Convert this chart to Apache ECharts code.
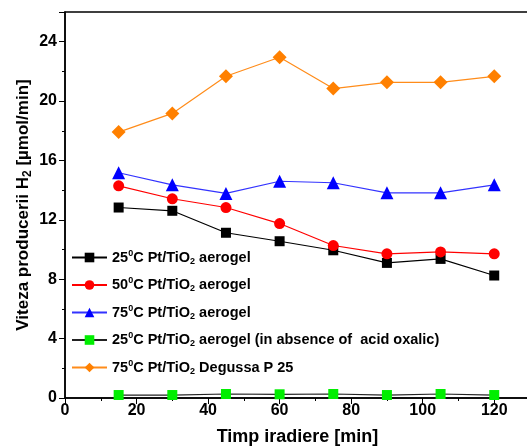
<!DOCTYPE html>
<html>
<head>
<meta charset="utf-8">
<script src="https://cdn.jsdelivr.net/npm/echarts@6/dist/echarts.min.js"></script>
<style>html,body{margin:0;padding:0;background:#fff}#c{width:527px;height:447px}</style>
</head>
<body>
<div id="c"></div>
<script>
var xValues = [15, 30, 45, 60, 75, 90, 105, 120];
var s25 = [12.83, 12.61, 11.13, 10.56, 9.95, 9.10, 9.37, 8.25];
var s50 = [14.29, 13.42, 12.83, 11.75, 10.27, 9.71, 9.84, 9.71];
var s75 = [15.17, 14.36, 13.78, 14.60, 14.50, 13.82, 13.82, 14.36];
var s25noOx = [0.20, 0.20, 0.27, 0.25, 0.27, 0.20, 0.27, 0.20];
var sDegussa = [17.91, 19.17, 21.67, 22.95, 20.84, 21.26, 21.26, 21.67];
var seriesNames = [
  '25{sup|0}C Pt/TiO{sub|2} aerogel',
  '50{sup|0}C Pt/TiO{sub|2} aerogel',
  '75{sup|0}C Pt/TiO{sub|2} aerogel',
  '25{sup|0}C Pt/TiO{sub|2} aerogel (in absence of  acid oxalic)',
  '75{sup|0}C Pt/TiO{sub|2} Degussa P 25'
];
var xTitle = 'Timp iradiere [min]';
var yTitle = 'Viteza producerii H{sub|2} [µmol/min]';

function pairs(ys) { return xValues.map(function (x, i) { return [x, ys[i]]; }); }

var chart = echarts.init(document.getElementById('c'));
var font = 'Arial, "Liberation Sans", sans-serif';
function mk(name, data, lineColor, markColor, symbol, size) {
  return {
    name: name, type: 'line', data: pairs(data),
    symbol: symbol, symbolSize: size,
    lineStyle: { color: lineColor, width: 1.2 },
    itemStyle: { color: markColor, borderWidth: 0 },
    animation: false
  };
}
var richT = {
  sup: { fontSize: 9, fontWeight: 'bold', fontFamily: font, verticalAlign: 'bottom', padding: [0, 0, 8, 0], color: '#000' },
  sub: { fontSize: 9, fontWeight: 'bold', fontFamily: font, verticalAlign: 'top', padding: [8, 0, 0, 0], color: '#000' }
};
chart.setOption({
  animation: false,
  grid: { left: 65, top: 12, right: -3, bottom: 49, containLabel: false, outerBoundsMode: 'none',
    show: true, borderColor: '#000', borderWidth: 1.5 },
  legend: {
    orient: 'vertical', left: 71, top: 249, padding: 0,
    itemWidth: 35, itemHeight: 12, itemGap: 10.5,
    textStyle: { fontSize: 14.5, fontWeight: 'bold', fontFamily: font, color: '#000', rich: richT },
    data: seriesNames
  },
  xAxis: {
    type: 'value', min: 0, max: 130, interval: 20,
    name: xTitle, nameLocation: 'middle', nameGap: 30, nameMoveOverlap: false,
    nameTextStyle: { fontSize: 18, fontWeight: 'bold', fontFamily: font, color: '#000' },
    axisLine: { lineStyle: { color: '#000', width: 1.5 } },
    axisTick: { inside: false, length: 6, lineStyle: { color: '#000' } },
    minorTick: { show: true, splitNumber: 2, length: 3, lineStyle: { color: '#000' } },
    axisLabel: { fontSize: 16, fontWeight: 'bold', fontFamily: font, color: '#000', margin: 5,
      formatter: function (v) { return v > 120 ? '' : v; } },
    splitLine: { show: false }
  },
  yAxis: {
    type: 'value', min: 0, max: 26, interval: 4,
    name: yTitle, nameLocation: 'middle', nameGap: 31, nameMoveOverlap: false,
    nameTextStyle: { fontSize: 17, fontWeight: 'bold', fontFamily: font, color: '#000', rich: {
      sub: { fontSize: 12, fontWeight: 'bold', fontFamily: font, verticalAlign: 'top', padding: [9, 0, 0, 0], color: '#000' } } },
    axisLine: { show: true, lineStyle: { color: '#000', width: 1.5 } },
    axisTick: { show: true, inside: false, length: 6, lineStyle: { color: '#000' } },
    minorTick: { show: true, splitNumber: 2, length: 3, lineStyle: { color: '#000' } },
    axisLabel: { fontSize: 16, fontWeight: 'bold', fontFamily: font, color: '#000', margin: 8,
      formatter: function (v) { return v > 24 ? '' : v; } },
    splitLine: { show: false }
  },
  series: [
    mk(seriesNames[0], s25, '#000000', '#000000', 'rect', 10),
    mk(seriesNames[1], s50, '#ff0000', '#ff0000', 'circle', 11),
    mk(seriesNames[2], s75, '#3333ff', '#0000ff', 'triangle', 13),
    mk(seriesNames[3], s25noOx, '#222222', '#00ee00', 'rect', 10),
    mk(seriesNames[4], sDegussa, '#ff8c1a', '#ff8000', 'diamond', 14)
  ]
});
</script>
</body>
</html>
